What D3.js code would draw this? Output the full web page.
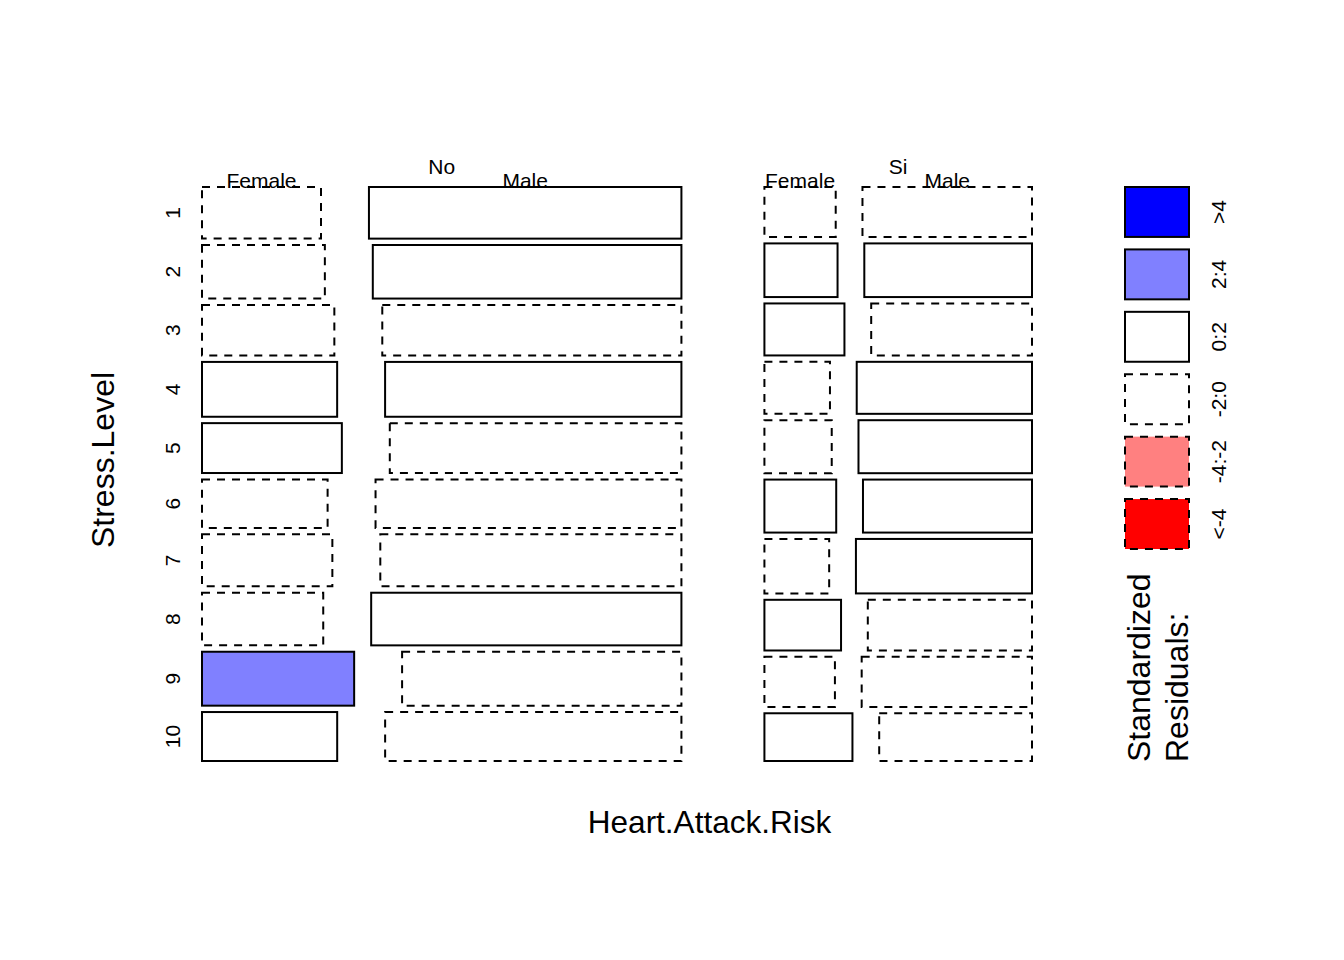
<!DOCTYPE html>
<html>
<head>
<meta charset="utf-8">
<script src="https://cdn.jsdelivr.net/npm/d3@7"></script>
<style>
  html, body { margin: 0; padding: 0; background: #ffffff; }
  svg { display: block; }
  text { font-family: "Liberation Sans", Arial, sans-serif; fill: #000; }
</style>
</head>
<body>
<svg id="chart" width="1344" height="960"></svg>
<script>
// ---------------- data ----------------
const riskLevels = ["No", "Si"];
const sexLevels = ["Female", "Male"];
const stressLevels = ["1", "2", "3", "4", "5", "6", "7", "8", "9", "10"];

// estimated counts per stress level (1..10)
const noFemale = [155, 166, 169, 187, 176, 154, 171, 161, 207, 167];
const noMale   = [407, 417, 382, 410, 367, 375, 395, 412, 380, 366];
const siFemale = [90, 99, 105, 86, 90, 96, 89, 98, 89, 106];
const siMale   = [214, 227, 211, 230, 232, 226, 242, 210, 215, 184];

// standardized residual class per cell
const resNoFemale = ["-2:0", "-2:0", "-2:0", "0:2", "0:2", "-2:0", "-2:0", "-2:0", "2:4", "0:2"];
const resNoMale   = ["0:2", "0:2", "-2:0", "0:2", "-2:0", "-2:0", "-2:0", "0:2", "-2:0", "-2:0"];
const resSiFemale = ["-2:0", "0:2", "0:2", "-2:0", "-2:0", "0:2", "-2:0", "0:2", "-2:0", "0:2"];
const resSiMale   = ["-2:0", "0:2", "-2:0", "0:2", "0:2", "0:2", "0:2", "-2:0", "-2:0", "-2:0"];

const legendClasses = [">4", "2:4", "0:2", "-2:0", "-4:-2", "<-4"];
const legendFills = ["#0000FF", "#8080FF", "#FFFFFF", "#FFFFFF", "#FF8080", "#FF0000"];
const legendDashed = [false, false, false, true, true, true];

// ---------------- build table ----------------
const counts = { No: { Female: noFemale, Male: noMale }, Si: { Female: siFemale, Male: siMale } };
const resid = { No: { Female: resNoFemale, Male: resNoMale }, Si: { Female: resSiFemale, Male: resSiMale } };

const fillOf = d3.scaleOrdinal().domain(legendClasses).range(legendFills);
const dashOf = d3.scaleOrdinal().domain(legendClasses).range(legendDashed);

const off = 0.10;
// split an interval [a,b] into parts proportional to values, with off fraction whitespace
function split(a, b, values) {
  const tot = d3.sum(values);
  const n = values.length;
  const W = b - a;
  const white = off * W / Math.max(1, n - 1);
  const out = [];
  let pos = a;
  values.forEach((v) => {
    const w = (1 - off) * (v / tot) * W;
    out.push([pos, pos + w]);
    pos = pos + w + white;
  });
  return out;
}

const cells = [];
const riskTotals = riskLevels.map(r => d3.sum(sexLevels, s => d3.sum(counts[r][s])));
const xRisk = split(0, 1, riskTotals);
const rowsByRisk = {};
riskLevels.forEach((r, ri) => {
  const rowTotals = stressLevels.map((_, k) => d3.sum(sexLevels, s => counts[r][s][k]));
  const yRows = split(0, 1, rowTotals);
  rowsByRisk[r] = yRows;
  stressLevels.forEach((lev, k) => {
    const xs = split(xRisk[ri][0], xRisk[ri][1], sexLevels.map(s => counts[r][s][k]));
    sexLevels.forEach((s, si) => {
      cells.push({ risk: r, stress: lev, sex: s, k, x0: xs[si][0], x1: xs[si][1], y0: yRows[k][0], y1: yRows[k][1], cls: resid[r][s][k] });
    });
  });
});

// ---------------- draw ----------------
const svg = d3.select("#chart");
const x = d3.scaleLinear().domain([0, 1]).range([202, 1032]);
const y = d3.scaleLinear().domain([0, 1]).range([187, 761]);

const DASH = "8,7";

svg.append("g").selectAll("rect").data(cells).join("rect")
  .attr("x", d => x(d.x0)).attr("y", d => y(d.y0))
  .attr("width", d => x(d.x1) - x(d.x0)).attr("height", d => y(d.y1) - y(d.y0))
  .attr("fill", d => fillOf(d.cls))
  .attr("stroke", "#000").attr("stroke-width", 2)
  .attr("stroke-dasharray", d => dashOf(d.cls) ? DASH : null);

// risk labels (top)
svg.append("g").selectAll("text").data(riskLevels).join("text")
  .attr("x", (d, i) => x((xRisk[i][0] + xRisk[i][1]) / 2))
  .attr("y", 174)
  .attr("text-anchor", "middle").attr("font-size", 21)
  .text(d => d);

// sex labels from first row of each risk column
const firstRow = cells.filter(c => c.k === 0);
svg.append("g").selectAll("text").data(firstRow).join("text")
  .attr("x", d => x((d.x0 + d.x1) / 2))
  .attr("y", 188)
  .attr("text-anchor", "middle").attr("font-size", 21)
  .text(d => d.sex);

// stress labels on the left (from first risk column)
svg.append("g").selectAll("text").data(stressLevels).join("text")
  .attr("transform", (d, k) => {
    const yr = rowsByRisk[riskLevels[0]][k];
    return `translate(180,${y((yr[0] + yr[1]) / 2)}) rotate(-90)`;
  })
  .attr("text-anchor", "middle").attr("font-size", 21)
  .text(d => d);

// axis titles
svg.append("text").attr("x", 709.5).attr("y", 833)
  .attr("text-anchor", "middle").attr("font-size", 31.5)
  .text("Heart.Attack.Risk");
svg.append("text").attr("transform", "translate(114,460) rotate(-90)")
  .attr("text-anchor", "middle").attr("font-size", 32)
  .text("Stress.Level");

// legend
const ly = d3.scaleBand().domain(legendClasses).range([187, 549]).paddingInner(0.2).paddingOuter(0);
const lg = svg.append("g");
lg.selectAll("rect").data(legendClasses).join("rect")
  .attr("x", 1125).attr("y", d => ly(d))
  .attr("width", 64).attr("height", ly.bandwidth())
  .attr("fill", d => fillOf(d))
  .attr("stroke", "#000").attr("stroke-width", 2)
  .attr("stroke-dasharray", d => dashOf(d) ? DASH : null);
lg.selectAll("text").data(legendClasses).join("text")
  .attr("transform", d => `translate(1226,${ly(d) + ly.bandwidth() / 2}) rotate(-90)`)
  .attr("text-anchor", "middle").attr("font-size", 21)
  .text(d => d);
lg.append("text").attr("transform", "translate(1150,762) rotate(-90)")
  .attr("font-size", 32).text("Standardized");
lg.append("text").attr("transform", "translate(1188,762) rotate(-90)")
  .attr("font-size", 32).text("Residuals:");
</script>
</body>
</html>
